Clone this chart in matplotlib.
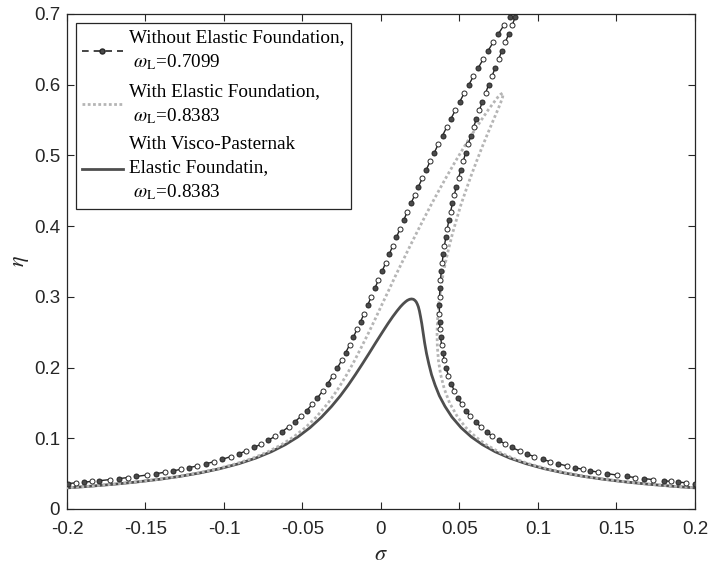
import numpy as np
import matplotlib
matplotlib.use("Agg")
import matplotlib.pyplot as plt
from matplotlib.lines import Line2D

plt.rcParams["mathtext.fontset"] = "stix"
plt.rcParams["font.family"] = ["Liberation Sans", "DejaVu Sans"]

# ---- Without elastic foundation (omega_L = 0.7099) ----
# upper (left) branch, eta increasing up to the peak
eta_wo_up = [0.036, 0.037, 0.038, 0.039, 0.040, 0.0415, 0.043, 0.0445, 0.046, 0.048,
             0.050, 0.052, 0.054, 0.056, 0.0585, 0.061, 0.064, 0.067, 0.070, 0.074,
             0.078, 0.082, 0.087, 0.092, 0.097, 0.103, 0.109, 0.116, 0.123, 0.131,
             0.139, 0.148, 0.157, 0.167, 0.177, 0.188, 0.199, 0.210, 0.221, 0.232,
             0.243, 0.254, 0.265, 0.276, 0.288, 0.300, 0.312, 0.324, 0.336, 0.348,
             0.360, 0.372, 0.384, 0.396, 0.408, 0.420, 0.432, 0.444, 0.456, 0.468,
             0.480, 0.492, 0.504, 0.516, 0.528, 0.540, 0.552, 0.564, 0.576, 0.588,
             0.600, 0.612, 0.624, 0.636, 0.648, 0.660, 0.672, 0.684, 0.696, 0.706]
sig_wo_up = [-0.1995, -0.1941, -0.1890, -0.1841, -0.1794, -0.1729, -0.1668, -0.1611, -0.1558, -0.1493,
             -0.1432, -0.1376, -0.1324, -0.1276, -0.1221, -0.1169, -0.1113, -0.1062, -0.1015, -0.0958,
             -0.0907, -0.0860, -0.0808, -0.0762, -0.0719, -0.0673, -0.0632, -0.0589, -0.0550, -0.0510,
             -0.0474, -0.0438, -0.0405, -0.0371, -0.0340, -0.0308, -0.0279, -0.0251, -0.0225, -0.0200,
             -0.0176, -0.0153, -0.0130, -0.0108, -0.0085, -0.0062, -0.0039, -0.0016, 0.0007, 0.0030,
             0.0052, 0.0075, 0.0098, 0.0121, 0.0144, 0.0167, 0.0191, 0.0215, 0.0239, 0.0264,
             0.0289, 0.0314, 0.0340, 0.0365, 0.0392, 0.0419, 0.0446, 0.0474, 0.0502, 0.0530,
             0.0560, 0.0589, 0.0620, 0.0651, 0.0682, 0.0715, 0.0748, 0.0783, 0.0821, 0.0862]
# lower (right) branch, from the peak down to the tail
eta_wo_lo = [0.696, 0.684, 0.672, 0.660, 0.648, 0.636, 0.624, 0.612, 0.600, 0.588,
             0.576, 0.564, 0.552, 0.540, 0.528, 0.516, 0.504, 0.492, 0.480, 0.468,
             0.456, 0.444, 0.432, 0.420, 0.408, 0.396, 0.384, 0.372, 0.360, 0.348,
             0.336, 0.324, 0.312, 0.300, 0.288, 0.276, 0.265, 0.254, 0.243, 0.232,
             0.221, 0.210, 0.199, 0.188, 0.177, 0.167, 0.157, 0.148, 0.139, 0.131,
             0.123, 0.116, 0.109, 0.103, 0.097, 0.092, 0.087, 0.082, 0.078, 0.074,
             0.070, 0.067, 0.064, 0.061, 0.0585, 0.056, 0.054, 0.052, 0.050, 0.048,
             0.046, 0.0445, 0.043, 0.0415, 0.040, 0.039, 0.038, 0.037, 0.036]
sig_wo_lo = [0.0855, 0.0836, 0.0814, 0.0792, 0.0771, 0.0749, 0.0728, 0.0707, 0.0686, 0.0666,
             0.0646, 0.0627, 0.0608, 0.0590, 0.0573, 0.0556, 0.0540, 0.0524, 0.0509, 0.0494,
             0.0480, 0.0467, 0.0455, 0.0443, 0.0432, 0.0422, 0.0413, 0.0404, 0.0396, 0.0390,
             0.0384, 0.0379, 0.0376, 0.0373, 0.0372, 0.0372, 0.0373, 0.0376, 0.0380, 0.0386,
             0.0394, 0.0404, 0.0416, 0.0430, 0.0448, 0.0467, 0.0490, 0.0514, 0.0541, 0.0570,
             0.0603, 0.0636, 0.0673, 0.0710, 0.0752, 0.0791, 0.0834, 0.0884, 0.0928, 0.0977,
             0.1032, 0.1078, 0.1128, 0.1182, 0.1233, 0.1287, 0.1334, 0.1385, 0.1441, 0.1501,
             0.1566, 0.1618, 0.1675, 0.1735, 0.1800, 0.1846, 0.1895, 0.1946, 0.2000]

# ---- With elastic foundation (omega_L = 0.8383) ----
eta_ef = [0.0298, 0.032, 0.035, 0.038, 0.042, 0.046, 0.051, 0.057, 0.064, 0.072,
          0.081, 0.091, 0.102, 0.115, 0.130, 0.150, 0.170, 0.190, 0.210, 0.230,
          0.250, 0.270, 0.290, 0.310, 0.330, 0.350, 0.370, 0.390, 0.410, 0.430,
          0.450, 0.470, 0.490, 0.510, 0.530, 0.550, 0.565, 0.575, 0.582, 0.586, 0.588]
sig_ef_left = [-0.2009, -0.1870, -0.1709, -0.1572, -0.1421, -0.1296, -0.1166, -0.1040, -0.0923, -0.0815,
               -0.0719, -0.0633, -0.0556, -0.0482, -0.0412, -0.0336, -0.0273, -0.0218, -0.0168, -0.0122,
               -0.0077, -0.0034, 0.0008, 0.0051, 0.0093, 0.0137, 0.0181, 0.0226, 0.0272, 0.0319,
               0.0368, 0.0418, 0.0470, 0.0524, 0.0580, 0.0639, 0.0685, 0.0719, 0.0743, 0.0760, 0.0774]
sig_ef_right = [0.2013, 0.1875, 0.1714, 0.1579, 0.1429, 0.1305, 0.1178, 0.1055, 0.0941, 0.0839,
                0.0748, 0.0670, 0.0603, 0.0541, 0.0488, 0.0437, 0.0403, 0.0380, 0.0366, 0.0359,
                0.0357, 0.0361, 0.0368, 0.0380, 0.0394, 0.0412, 0.0433, 0.0456, 0.0482, 0.0509,
                0.0540, 0.0572, 0.0606, 0.0641, 0.0678, 0.0716, 0.0745, 0.0763, 0.0774, 0.0778, 0.0774]

# ---- With visco-Pasternak elastic foundation (omega_L = 0.8383) ----
eta_vp = [0.0298, 0.032, 0.035, 0.038, 0.042, 0.046, 0.051, 0.057, 0.064, 0.072,
          0.081, 0.091, 0.102, 0.115, 0.130, 0.145, 0.160, 0.175, 0.190, 0.205,
          0.220, 0.235, 0.250, 0.262, 0.272, 0.280, 0.286, 0.290, 0.293, 0.295,
          0.2965, 0.297]
sig_vp_left = [-0.2001, -0.1862, -0.1700, -0.1563, -0.1410, -0.1284, -0.1153, -0.1026, -0.0906, -0.0797,
               -0.0698, -0.0609, -0.0529, -0.0452, -0.0378, -0.0315, -0.0259, -0.0209, -0.0163, -0.0119,
               -0.0076, -0.0034, 0.0009, 0.0044, 0.0075, 0.0102, 0.0124, 0.0141, 0.0156, 0.0168,
               0.0182, 0.0195]
sig_vp_right = [0.2005, 0.1866, 0.1705, 0.1569, 0.1418, 0.1293, 0.1165, 0.1040, 0.0925, 0.0820,
                0.0727, 0.0646, 0.0575, 0.0510, 0.0452, 0.0408, 0.0372, 0.0345, 0.0322, 0.0305,
                0.0290, 0.0278, 0.0268, 0.0260, 0.0252, 0.0245, 0.0238, 0.0231, 0.0224, 0.0216,
                0.0207, 0.0195]

labels = ["Without Elastic Foundation,\n" + r" $\omega_{\mathrm{L}}$=0.7099",
          "With Elastic Foundation,\n" + r" $\omega_{\mathrm{L}}$=0.8383",
          "With Visco-Pasternak\nElastic Foundatin,\n" + r" $\omega_{\mathrm{L}}$=0.8383"]

x_ticks = [-0.2, -0.15, -0.1, -0.05, 0, 0.05, 0.1, 0.15, 0.2]
x_ticklabels = ["-0.2", "-0.15", "-0.1", "-0.05", "0", "0.05", "0.1", "0.15", "0.2"]
y_ticks = [0, 0.1, 0.2, 0.3, 0.4, 0.5, 0.6, 0.7]
y_ticklabels = ["0", "0.1", "0.2", "0.3", "0.4", "0.5", "0.6", "0.7"]

fig = plt.figure(figsize=(7.08, 5.68), dpi=100)
ax = fig.add_axes([0.0946, 0.1039, 0.887, 0.8715])

# black curve: both branches joined at the peak, short dashes linking point pairs
sig_wo = np.array(sig_wo_up + sig_wo_lo)
eta_wo = np.array(eta_wo_up + eta_wo_lo)
n2 = (len(sig_wo) // 2) * 2
seg = np.full((n2 // 2, 3, 2), np.nan)
seg[:, 0, 0] = sig_wo[0:n2:2]
seg[:, 0, 1] = eta_wo[0:n2:2]
seg[:, 1, 0] = sig_wo[1:n2:2]
seg[:, 1, 1] = eta_wo[1:n2:2]
seg = seg.reshape(-1, 2)
dark = "#262626"
ax.plot(seg[:, 0], seg[:, 1], color=dark, lw=1.0, zorder=4)
ax.plot(sig_wo[0::2], eta_wo[0::2], ls="none", marker="o", ms=3.6,
        mfc="#4a4a4a", mec=dark, mew=0.7, zorder=5)
ax.plot(sig_wo[1::2], eta_wo[1::2], ls="none", marker="o", ms=3.6,
        mfc="white", mec=dark, mew=0.7, zorder=5)

# grey dotted curve
gray = "#b5b5b5"
sig_ef = list(sig_ef_left) + list(sig_ef_right[::-1])
eta_ef_all = list(eta_ef) + list(eta_ef[::-1])
ax.plot(sig_ef, eta_ef_all, color=gray, lw=2.0, ls=(0, (1.0, 0.9)),
        dash_capstyle="butt", zorder=3)

# visco-Pasternak solid curve
solid = "#4e4e4e"
sig_vp = list(sig_vp_left) + list(sig_vp_right[::-1])
eta_vp_all = list(eta_vp) + list(eta_vp[::-1])
ax.plot(sig_vp, eta_vp_all, color=solid, lw=2.0, zorder=2)

ax.set_xlim(-0.2, 0.2)
ax.set_ylim(0, 0.7)
ax.set_xticks(x_ticks)
ax.set_xticklabels(x_ticklabels)
ax.set_yticks(y_ticks)
ax.set_yticklabels(y_ticklabels)
ax.tick_params(direction="in", length=5, width=0.8, colors="#262626",
               labelsize=13.5, top=True, right=True)
ax.tick_params(axis="x", pad=9)
ax.tick_params(axis="y", pad=5)
for sp in ax.spines.values():
    sp.set_color("#262626")
    sp.set_linewidth(0.9)

ax.set_xlabel(r"$\sigma$", fontsize=16, color="#262626", labelpad=4)
ax.set_ylabel(r"$\eta$", fontsize=16, color="#262626", labelpad=2)

handles = [
    Line2D([], [], color=dark, lw=1.2, ls=(0, (4, 3)), marker="o", ms=3.6,
           mfc="#4a4a4a", mec=dark),
    Line2D([], [], color=gray, lw=2.0, ls=(0, (1.0, 0.9)), dash_capstyle="butt"),
    Line2D([], [], color=solid, lw=2.0),
]
leg = ax.legend(handles, labels, loc="upper left", prop={"family": "Liberation Serif", "size": 13.8},
                frameon=True, fancybox=False, framealpha=1, edgecolor="#262626",
                borderpad=0.35, labelspacing=0.55, handlelength=2.1, handletextpad=0.35,
                borderaxespad=0.45, numpoints=1)
for t in leg.get_texts():
    t.set_linespacing(1.42)
leg.get_frame().set_linewidth(0.9)

fig.savefig("out.png", dpi=100)
